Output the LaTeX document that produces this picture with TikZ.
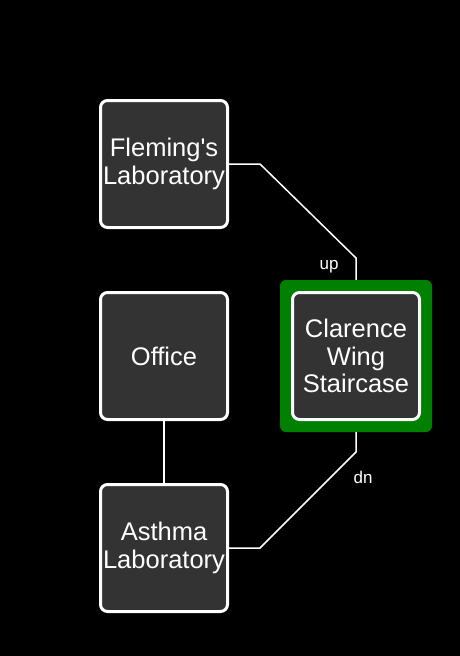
\documentclass[tikz,border=0pt]{standalone}
\usepackage{fontspec}
\setmainfont{Liberation Sans}[Ligatures=TeXOff]
\begin{document}
\begin{tikzpicture}[x=1pt,y=-1pt,
  room/.style={draw=white, line width=3pt, fill={rgb,255:red,51;green,51;blue,51}, rounded corners=7pt, minimum width=127pt, minimum height=127pt, inner sep=0pt, align=center, text=white, font=\fontsize{25.5}{27.5}\selectfont},
  hilite/.style={fill={rgb,255:red,0;green,128;blue,0}, rounded corners=6pt, minimum width=152pt, minimum height=152pt, inner sep=0pt},
  link/.style={draw=white, line width=1.5pt},
  lbl/.style={text=white, font=\fontsize{17}{19}\selectfont, inner sep=0pt}]
\fill[black] (0,0) rectangle (460,656);
\useasboundingbox (0,0) rectangle (460,656);
\node[hilite] (sg) at (356,356) {};
\node[room] (fl) at (164,164) {Fleming's\\Laboratory};
\node[room] (of) at (164,356) {Office};
\node[room] (as) at (164,548) {Asthma\\Laboratory};
\node[room] (cs) at (356,356) {Clarence\\Wing\\Staircase};
\draw[link] (fl.east) -- ++(31,0) -- ++(96,94) -- (sg.north);
\draw[link] (as.east) -- ++(31,0) -- ++(96,-96) -- (sg.south);
\draw[link] (of.south) -- (as.north);
\node[lbl] (up) at (329,267) {up};
\node[lbl] (dn) at (363,477) {dn};
\end{tikzpicture}
\end{document}
